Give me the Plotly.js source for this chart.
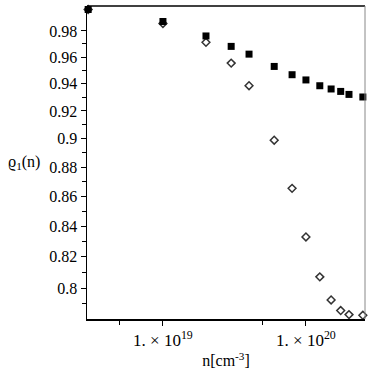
<!DOCTYPE html>
<html>
<head>
<meta charset="utf-8">
<script src="https://cdn.plot.ly/plotly-3.0.1.min.js"></script>
<style>html,body{margin:0;padding:0;background:#fff;}#chart{width:382px;height:374px;}</style>
</head>
<body>
<div id="chart"></div>
<script>
const density = [3e18, 1e19, 2e19, 3e19, 4e19, 6e19, 8e19, 1e20, 1.25e20, 1.5e20, 1.75e20, 2e20, 2.5e20];
const filledSeries = [0.9967, 0.9873, 0.9761, 0.9681, 0.9622, 0.9529, 0.9467, 0.9428, 0.9385, 0.9361, 0.9343, 0.9321, 0.9302];
const openSeries = [0.9967, 0.9858, 0.9712, 0.9554, 0.9385, 0.8990, 0.8655, 0.8329, 0.8071, 0.7925, 0.7859, 0.7834, 0.7830];
const yTickVals = [0.8, 0.82, 0.84, 0.86, 0.88, 0.9, 0.92, 0.94, 0.96, 0.98];
const yTickText = ['0.8', '0.82', '0.84', '0.86', '0.88', '0.9', '0.92', '0.94', '0.96', '0.98'];
const yMinorVals = [0.79, 0.81, 0.83, 0.85, 0.87, 0.89, 0.91, 0.93, 0.95, 0.97];
const xTickVals = [1e19, 1e20];
const xTickText = ['1. × 10<sup>19</sup>', '1. × 10<sup>20</sup>'];
const xMinorVals = [5e18, 5e19];

const fam = 'Liberation Serif';

const traces = [
  {x: density, y: openSeries, type: 'scatter', mode: 'markers', cliponaxis: false,
   marker: {symbol: 'diamond-open', size: 6, color: '#333', line: {width: 1.5, color: '#333'}}},
  {x: density, y: filledSeries, type: 'scatter', mode: 'markers', cliponaxis: false,
   marker: {symbol: 'square', size: 7, color: '#000'}}
];

const layout = {
  width: 382, height: 374,
  margin: {l: 87, r: 17, t: 6, b: 55},
  paper_bgcolor: '#fff', plot_bgcolor: '#fff',
  showlegend: false,
  font: {family: fam, size: 16, color: '#000'},
  xaxis: {
    type: 'log', range: [18.469, 20.413],
    tickmode: 'array', tickvals: xTickVals, ticktext: xTickText,
    ticks: 'outside', ticklen: 5, tickwidth: 1, tickcolor: '#000',
    showline: true, linecolor: '#000', linewidth: 1.5, mirror: false,
    showgrid: false, zeroline: false,
    tickfont: {family: fam, size: 17, color: '#000'},
    minor: {tickmode: 'array', tickvals: xMinorVals, ticks: 'outside', ticklen: 4, tickcolor: '#000', showgrid: false},
    title: {text: 'n[cm<sup>-3</sup>]', font: {family: fam, size: 16, color: '#000'}, standoff: 6}
  },
  yaxis: {
    type: 'log', range: [-0.10752, -0.000235],
    tickmode: 'array', tickvals: yTickVals, ticktext: yTickText,
    ticks: 'outside', ticklen: 5, tickwidth: 1, tickcolor: '#000',
    showline: true, linecolor: '#000', linewidth: 1.5,
    showgrid: false, zeroline: false,
    tickfont: {family: fam, size: 16, color: '#000'},
    minor: {tickmode: 'array', tickvals: yMinorVals, ticks: 'outside', ticklen: 4, tickcolor: '#000', showgrid: false}
  },
  shapes: [
    {type: 'line', xref: 'paper', yref: 'paper', x0: 0, x1: 1, y0: 1, y1: 1, line: {color: '#000', width: 1.5}},
    {type: 'line', xref: 'paper', yref: 'paper', x0: 1, x1: 1, y0: 0, y1: 1, line: {color: '#888', width: 1}}
  ],
  annotations: [
    {xref: 'paper', yref: 'paper', x: 0, y: 0.5, xshift: -63, xanchor: 'center', yanchor: 'middle',
     showarrow: false, text: 'ϱ<sub>1</sub>(n)', font: {family: fam, size: 16, color: '#000'}}
  ]
};

Plotly.newPlot('chart', traces, layout, {displayModeBar: false, staticPlot: true});
</script>
</body>
</html>
